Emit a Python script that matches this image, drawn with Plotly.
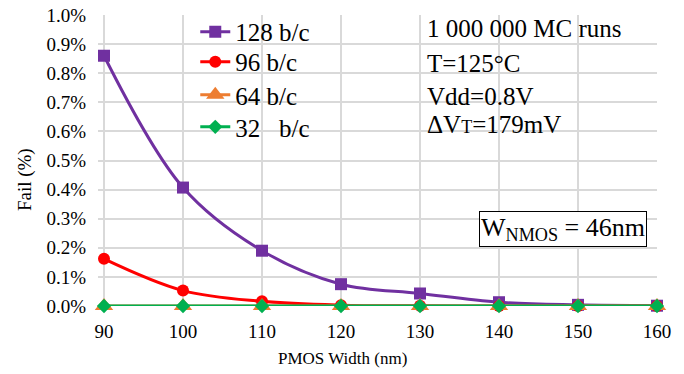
import plotly.graph_objects as go

widths = [90, 100, 110, 120, 130, 140, 150, 160]
fail_128 = [0.86, 0.407, 0.19, 0.075, 0.043, 0.013, 0.004, 0.001]
fail_96 = [0.162, 0.053, 0.016, 0.003, 0.001, 0.0, 0.0, 0.0]
fail_64 = [0.0, 0.0, 0.0, 0.0, 0.0, 0.0, 0.0, 0.0]
fail_32 = [0.0, 0.0, 0.0, 0.0, 0.0, 0.0, 0.0, 0.0]
y_ticks = [0.0, 0.1, 0.2, 0.3, 0.4, 0.5, 0.6, 0.7, 0.8, 0.9, 1.0]
x_ticks = [90, 100, 110, 120, 130, 140, 150, 160]

FONT = "Liberation Serif"

series = [
    ("128 b/c", fail_128, "#7030A0", "square", 12, "legend", 0.9416),
    ("96 b/c", fail_96, "#FF0000", "circle", 12, "legend2", 0.8385),
    ("64 b/c", fail_64, "#ED7D31", "triangle-up", 16, "legend3", 0.725),
    ("32\u00a0\u00a0\u00a0b/c", fail_32, "#00B050", "diamond", 11, "legend4", 0.615),
]

fig = go.Figure()
legends = {}
for name, vals, color, sym, size, lg, ly in series:
    fig.add_trace(go.Scatter(
        x=widths, y=vals, name=name, mode="lines+markers",
        line=dict(color=color, width=3, shape="spline"),
        marker=dict(symbol=sym, size=size, color=color),
        cliponaxis=False, legend=lg,
    ))
    legends[lg] = dict(x=0.174, y=ly, xanchor="left", yanchor="middle",
                       font=dict(size=25, family=FONT, color="black"),
                       bgcolor="rgba(0,0,0,0)", itemwidth=30)

fig.update_layout(
    width=684, height=374,
    margin=dict(l=98, r=27, t=15, b=68, autoexpand=False),
    paper_bgcolor="white", plot_bgcolor="white",
    font=dict(family=FONT, color="black"),
    showlegend=True,
    xaxis=dict(range=[89.24, 160], tickvals=x_ticks, showgrid=True,
               gridcolor="#D9D9D9", gridwidth=1.5, zeroline=False,
               showline=False, tickfont=dict(size=19, family=FONT),
               ticks="", ticklabelstandoff=12),
    yaxis=dict(range=[0, 1.0], tickvals=y_ticks,
               ticktext=[f"{v:.1f}%" for v in y_ticks], showgrid=True,
               gridcolor="#D9D9D9", gridwidth=1.5, zeroline=False,
               showline=False, tickfont=dict(size=19, family=FONT),
               ticks="", ticklabelstandoff=11),
    **legends,
)

# axis titles
fig.add_annotation(x=0.4365, y=-0.182, xref="paper", yref="paper",
                   text="PMOS Width (nm)", showarrow=False,
                   xanchor="center", yanchor="middle",
                   font=dict(size=17, family=FONT, color="black"))
fig.add_annotation(x=-0.1306, y=0.436, xref="paper", yref="paper",
                   text="Fail (%)", showarrow=False, textangle=-90,
                   xanchor="center", yanchor="middle",
                   font=dict(size=19, family=FONT, color="black"))

info = [
    ("1 000 000 MC runs", 0.952),
    ("T=125°C", 0.835),
    ("Vdd=0.8V", 0.7216),
    ("ΔV<span style='font-size:18px'>T</span>=179mV", 0.622),
]
for txt, yy in info:
    fig.add_annotation(x=0.585, y=yy, xref="paper", yref="paper", text=txt,
                       showarrow=False, xanchor="left", yanchor="middle",
                       font=dict(size=25, family=FONT, color="black"))

fig.add_annotation(x=0.8311, y=0.266, xref="paper", yref="paper",
                   text="W<sub>NMOS</sub> = 46nm", showarrow=False,
                   xanchor="center", yanchor="middle",
                   font=dict(size=26, family=FONT, color="black"),
                   bordercolor="black", borderwidth=1, borderpad=1,
                   bgcolor="white")

fig.write_html("out.html")
